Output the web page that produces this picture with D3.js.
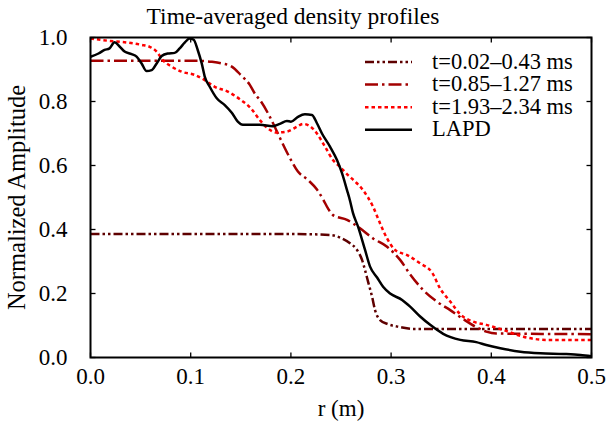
<!DOCTYPE html>
<html>
<head>
<meta charset="utf-8">
<script src="https://cdn.jsdelivr.net/npm/d3@7"></script>
<style>
  body { margin: 0; background: #fff; }
  svg text { font-family: "Liberation Serif", "DejaVu Serif", serif; fill: #000; }
</style>
</head>
<body>
<div id="chart"></div>
<script>
// ---- data ----
var early_r = [0, 0.2, 0.239, 0.251, 0.259, 0.266, 0.271, 0.274, 0.277, 0.281, 0.284, 0.289, 0.297, 0.309, 0.322, 0.5];
var early_v = [0.386, 0.386, 0.383, 0.372, 0.357, 0.336, 0.305, 0.273, 0.237, 0.19, 0.148, 0.117, 0.104, 0.095, 0.089, 0.089];

var mid_r = [0, 0.107, 0.121, 0.131, 0.141, 0.15, 0.159, 0.165, 0.169, 0.179, 0.187, 0.194, 0.201, 0.207, 0.217, 0.226, 0.232, 0.237, 0.242, 0.256, 0.269, 0.282, 0.296, 0.309, 0.319, 0.332, 0.346, 0.359, 0.372, 0.385, 0.395, 0.405, 0.5];
var mid_v = [0.927, 0.927, 0.924, 0.919, 0.909, 0.883, 0.852, 0.82, 0.805, 0.752, 0.70, 0.654, 0.612, 0.581, 0.555, 0.525, 0.495, 0.466, 0.445, 0.43, 0.404, 0.372, 0.346, 0.305, 0.26, 0.211, 0.174, 0.148, 0.12, 0.095, 0.081, 0.075, 0.073];

var late_r = [0, 0.017, 0.037, 0.051, 0.059, 0.066, 0.072, 0.081, 0.091, 0.104, 0.114, 0.124, 0.137, 0.15, 0.16, 0.169, 0.177, 0.186, 0.196, 0.206, 0.212, 0.219, 0.226, 0.234, 0.242, 0.249, 0.257, 0.264, 0.272, 0.282, 0.289, 0.296, 0.304, 0.316, 0.329, 0.341, 0.349, 0.359, 0.369, 0.382, 0.395, 0.412, 0.432, 0.455, 0.5];
var late_v = [0.997, 0.99, 0.984, 0.977, 0.971, 0.956, 0.93, 0.909, 0.893, 0.883, 0.867, 0.846, 0.831, 0.805, 0.779, 0.742, 0.716, 0.703, 0.706, 0.721, 0.73, 0.723, 0.70, 0.659, 0.617, 0.596, 0.57, 0.55, 0.523, 0.471, 0.419, 0.372, 0.336, 0.32, 0.294, 0.265, 0.215, 0.175, 0.135, 0.112, 0.102, 0.086, 0.065, 0.055, 0.055];

var lapd_r = [0, 0.008, 0.014, 0.019, 0.024, 0.029, 0.034, 0.041, 0.046, 0.051, 0.056, 0.061, 0.066, 0.071, 0.077, 0.084, 0.089, 0.094, 0.099, 0.103, 0.107, 0.111, 0.114, 0.119, 0.126, 0.134, 0.141, 0.147, 0.152, 0.169, 0.182, 0.189, 0.196, 0.2, 0.207, 0.214, 0.221, 0.226, 0.231, 0.239, 0.246, 0.251, 0.256, 0.259, 0.262, 0.267, 0.274, 0.279, 0.286, 0.292, 0.299, 0.311, 0.319, 0.329, 0.339, 0.352, 0.369, 0.385, 0.395, 0.409, 0.429, 0.449, 0.472, 0.489, 0.5];
var lapd_v = [0.94, 0.95, 0.961, 0.966, 0.985, 0.972, 0.956, 0.948, 0.94, 0.919, 0.895, 0.898, 0.919, 0.942, 0.95, 0.952, 0.966, 0.984, 0.997, 0.993, 0.961, 0.919, 0.878, 0.846, 0.81, 0.789, 0.765, 0.737, 0.727, 0.727, 0.723, 0.73, 0.739, 0.737, 0.752, 0.76, 0.758, 0.732, 0.70, 0.659, 0.617, 0.576, 0.523, 0.49, 0.451, 0.409, 0.336, 0.284, 0.25, 0.221, 0.2, 0.18, 0.159, 0.128, 0.102, 0.074, 0.055, 0.048, 0.039, 0.029, 0.018, 0.013, 0.011, 0.008, 0.004];

var seriesNames = ["t=0.02\u20130.43 ms", "t=0.85\u20131.27 ms", "t=1.93\u20132.34 ms", "LAPD"];
var xTicks = [0, 0.1, 0.2, 0.3, 0.4, 0.5];
var yTicks = [0, 0.2, 0.4, 0.6, 0.8, 1.0];

// ---- layout ----
var width = 608, height = 426;
var margin = { left: 90.5, right: 16.5, top: 37.5, bottom: 68.5 };
var plotW = width - margin.left - margin.right;
var plotH = height - margin.top - margin.bottom;

var x = d3.scaleLinear().domain([0, 0.5]).range([0, plotW]);
var y = d3.scaleLinear().domain([0, 1]).range([plotH, 0]);

var styles = [
    { color: "#5e0000", dash: "9,3,2.5,3,2.5,3" },
    { color: "#a30000", dash: "13,4,2.5,4" },
    { color: "#ff0000", dash: "3.5,3" },
    { color: "#000000", dash: null }
];

var series = [
    { r: early_r, v: early_v },
    { r: mid_r, v: mid_v },
    { r: late_r, v: late_v },
    { r: lapd_r, v: lapd_v }
];

var svg = d3.select("#chart").append("svg")
    .attr("width", width)
    .attr("height", height);

svg.append("defs").append("clipPath").attr("id", "clip")
    .append("rect").attr("width", plotW).attr("height", plotH);

var g = svg.append("g")
    .attr("transform", "translate(" + margin.left + "," + margin.top + ")");

// title
svg.append("text")
    .attr("x", 293)
    .attr("y", 24)
    .attr("text-anchor", "middle")
    .style("font-size", "23.5px")
    .text("Time-averaged density profiles");

// lines
var line = d3.line()
    .x(function (d) { return x(d[0]); })
    .y(function (d) { return y(d[1]); })
    .curve(d3.curveMonotoneX);

var lines = g.append("g").attr("clip-path", "url(#clip)");
series.forEach(function (s, i) {
    var pts = s.r.map(function (r, j) { return [r, s.v[j]]; });
    lines.append("path")
        .datum(pts)
        .attr("d", line)
        .attr("fill", "none")
        .attr("stroke", styles[i].color)
        .attr("stroke-width", 2.5)
        .attr("stroke-dasharray", styles[i].dash);
});

// ticks (inward, all four sides)
var tickLen = 5;
var ticks = g.append("g").attr("stroke", "#000").attr("stroke-width", 1.3);
xTicks.forEach(function (t) {
    ticks.append("line").attr("x1", x(t)).attr("x2", x(t)).attr("y1", plotH).attr("y2", plotH - tickLen);
    ticks.append("line").attr("x1", x(t)).attr("x2", x(t)).attr("y1", 0).attr("y2", tickLen);
});
yTicks.forEach(function (t) {
    ticks.append("line").attr("x1", 0).attr("x2", tickLen).attr("y1", y(t)).attr("y2", y(t));
    ticks.append("line").attr("x1", plotW).attr("x2", plotW - tickLen).attr("y1", y(t)).attr("y2", y(t));
});

// frame
g.append("rect")
    .attr("width", plotW).attr("height", plotH)
    .attr("fill", "none").attr("stroke", "#000").attr("stroke-width", 2);

// tick labels
g.selectAll(".xlab").data(xTicks).enter().append("text")
    .attr("x", function (d) { return x(d); })
    .attr("y", plotH + 26)
    .attr("text-anchor", "middle")
    .style("font-size", "23px")
    .text(function (d) { return d3.format(".1f")(d); });

g.selectAll(".ylab").data(yTicks).enter().append("text")
    .attr("x", -23)
    .attr("y", function (d) { return y(d) + 7.5; })
    .attr("text-anchor", "end")
    .style("font-size", "23px")
    .text(function (d) { return d3.format(".1f")(d); });

// axis titles
svg.append("text")
    .attr("x", margin.left + plotW / 2)
    .attr("y", 416)
    .attr("text-anchor", "middle")
    .style("font-size", "23px")
    .text("r (m)");

svg.append("text")
    .attr("transform", "translate(25," + (margin.top + plotH / 2) + ") rotate(-90)")
    .attr("text-anchor", "middle")
    .style("font-size", "24.5px")
    .text("Normalized Amplitude");

// legend
var legend = svg.append("g").attr("transform", "translate(365,62)");
seriesNames.forEach(function (name, i) {
    var row = legend.append("g").attr("transform", "translate(0," + (i * 22.6) + ")");
    row.append("line")
        .attr("x1", 0).attr("x2", 47).attr("y1", 0).attr("y2", 0)
        .attr("stroke", styles[i].color)
        .attr("stroke-width", 2.5)
        .attr("stroke-dasharray", styles[i].dash);
    row.append("text")
        .attr("x", 67).attr("y", 6.5)
        .style("font-size", "22.5px")
        .text(name);
});
</script>
</body>
</html>
